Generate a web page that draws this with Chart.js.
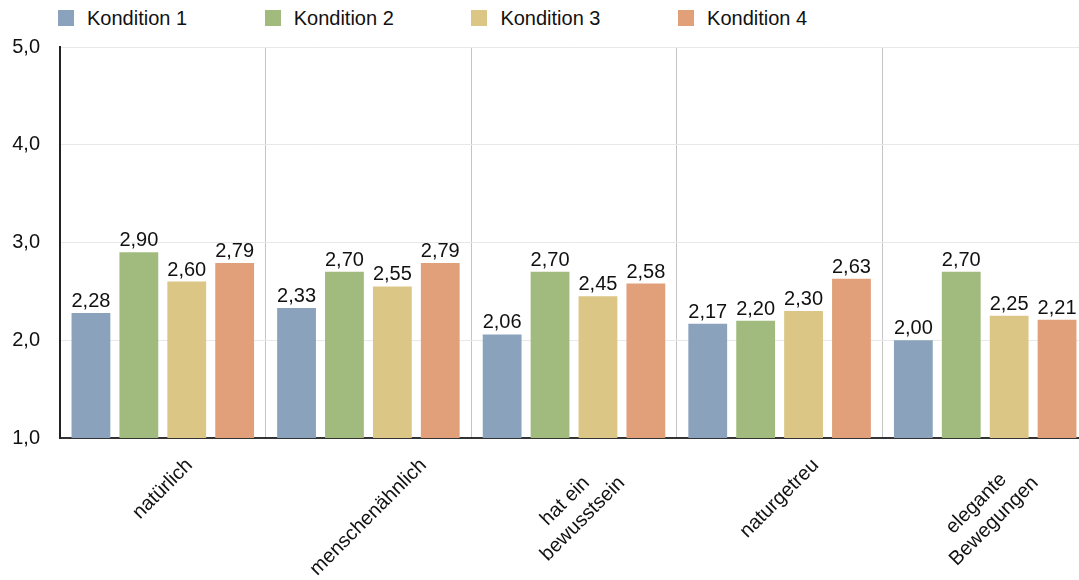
<!DOCTYPE html>
<html>
<head>
<meta charset="utf-8">
<script src="https://cdn.jsdelivr.net/npm/chart.js@4.4.0/dist/chart.umd.min.js"></script>
<style>
  html, body { margin: 0; padding: 0; background: #fff; overflow: hidden; }
  #wrap { position: relative; width: 1079px; height: 580px; overflow: hidden; }
  #myChart { position: absolute; left: 0; top: 0; }
  #legend { position: absolute; left: 58px; top: 9px; font: 20px "Liberation Sans", Arial, sans-serif; color: #111; white-space: nowrap; }
  .item { display: inline-block; width: 206.7px; height: 18px; position: relative; }
  .box { position: absolute; left: 0; top: 1px; width: 16px; height: 16px; }
  .txt { position: absolute; left: 29px; top: -2px; line-height: 22px; }
</style>
</head>
<body>
<div id="wrap">
  <div id="legend"></div>
  <canvas id="myChart" width="1089" height="580"></canvas>
</div>
<script>
// kategorier og verdier
const kategorier = ['natürlich', 'menschenähnlich', ['hat ein', 'bewusstsein'], 'naturgetreu', ['elegante', 'Bewegungen']];
const serier = ['Kondition 1', 'Kondition 2', 'Kondition 3', 'Kondition 4'];
const kondition1 = [2.28, 2.33, 2.06, 2.17, 2.00];
const kondition2 = [2.90, 2.70, 2.70, 2.20, 2.70];
const kondition3 = [2.60, 2.55, 2.45, 2.30, 2.25];
const kondition4 = [2.79, 2.79, 2.58, 2.63, 2.21];
const yTicks = [1, 2, 3, 4, 5];
const farger = ['#8aa2bc', '#a0bb7d', '#dbc686', '#e1a07a'];

const fontFamily = '"Liberation Sans", Arial, sans-serif';

// legend i html
const legend = document.getElementById('legend');
serier.forEach(function(navn, i) {
  const item = document.createElement('span');
  item.className = 'item';
  item.innerHTML = '<span class="box" style="background:' + farger[i] + '"></span><span class="txt">' + navn + '</span>';
  legend.appendChild(item);
});

function komma(v) {
  return v.toFixed(2).replace('.', ',');
}

// verdier over stolpene
const verdiPlugin = {
  id: 'verdier',
  afterDatasetsDraw(chart) {
    const ctx = chart.ctx;
    ctx.save();
    ctx.font = '20px ' + fontFamily;
    ctx.fillStyle = '#111';
    ctx.textAlign = 'center';
    ctx.textBaseline = 'alphabetic';
    chart.data.datasets.forEach(function(ds, i) {
      const meta = chart.getDatasetMeta(i);
      meta.data.forEach(function(bar, j) {
        ctx.fillText(komma(ds.data[j]), bar.x, bar.y - 6);
      });
    });
    ctx.restore();
  }
};

// skrå kategorinavn
const etikettPlugin = {
  id: 'etiketter',
  afterDraw(chart) {
    const ctx = chart.ctx;
    const xs = chart.scales.x;
    const lh = 25;
    ctx.save();
    ctx.font = '20px ' + fontFamily;
    ctx.fillStyle = '#111';
    ctx.textAlign = 'center';
    ctx.textBaseline = 'middle';
    chart.data.labels.forEach(function(lab, i) {
      const linjer = Array.isArray(lab) ? lab : [lab];
      let maxW = 0;
      linjer.forEach(function(l) { maxW = Math.max(maxW, ctx.measureText(l).width); });
      const h = (maxW + (linjer.length - 1) * lh + 15) * Math.SQRT1_2;
      const cx = xs.getPixelForValue(i);
      const cy = chart.chartArea.bottom + 19 + h / 2;
      ctx.save();
      ctx.translate(cx, cy);
      ctx.rotate(-Math.PI / 4);
      linjer.forEach(function(l, k) {
        ctx.fillText(l, 0, (k - (linjer.length - 1) / 2) * lh);
      });
      ctx.restore();
    });
    ctx.restore();
  }
};

const ctx = document.getElementById('myChart');
const myChart = new Chart(ctx, {
  type: 'bar',
  data: {
    labels: kategorier,
    datasets: [
      { label: serier[0], data: kondition1, backgroundColor: farger[0] },
      { label: serier[1], data: kondition2, backgroundColor: farger[1] },
      { label: serier[2], data: kondition3, backgroundColor: farger[2] },
      { label: serier[3], data: kondition4, backgroundColor: farger[3] }
    ]
  },
  options: {
    responsive: false,
    animation: false,
    devicePixelRatio: 1,
    categoryPercentage: 0.932,
    barPercentage: 0.81,
    layout: { padding: { top: 47, right: 1, left: 0, bottom: 0 } },
    plugins: {
      legend: { display: false },
      tooltip: { enabled: false }
    },
    scales: {
      x: {
        ticks: { display: false },
        grid: { offset: true, color: '#c4c4c4', lineWidth: 1, drawTicks: false },
        border: { color: '#333', width: 2 },
        afterFit(scale) { scale.height = 142; }
      },
      y: {
        min: 1,
        max: 5,
        afterBuildTicks(scale) { scale.ticks = yTicks.map(function(v) { return { value: v }; }); },
        ticks: {
          padding: 20,
          color: '#111',
          font: { family: fontFamily, size: 20 },
          callback: function(v) { return Number(v).toFixed(1).replace('.', ','); }
        },
        grid: { color: '#e8e8e8', drawTicks: false },
        border: { color: '#222', width: 2 },
        afterFit(scale) { scale.width = 60; }
      }
    }
  },
  plugins: [verdiPlugin, etikettPlugin]
});
</script>
</body>
</html>
